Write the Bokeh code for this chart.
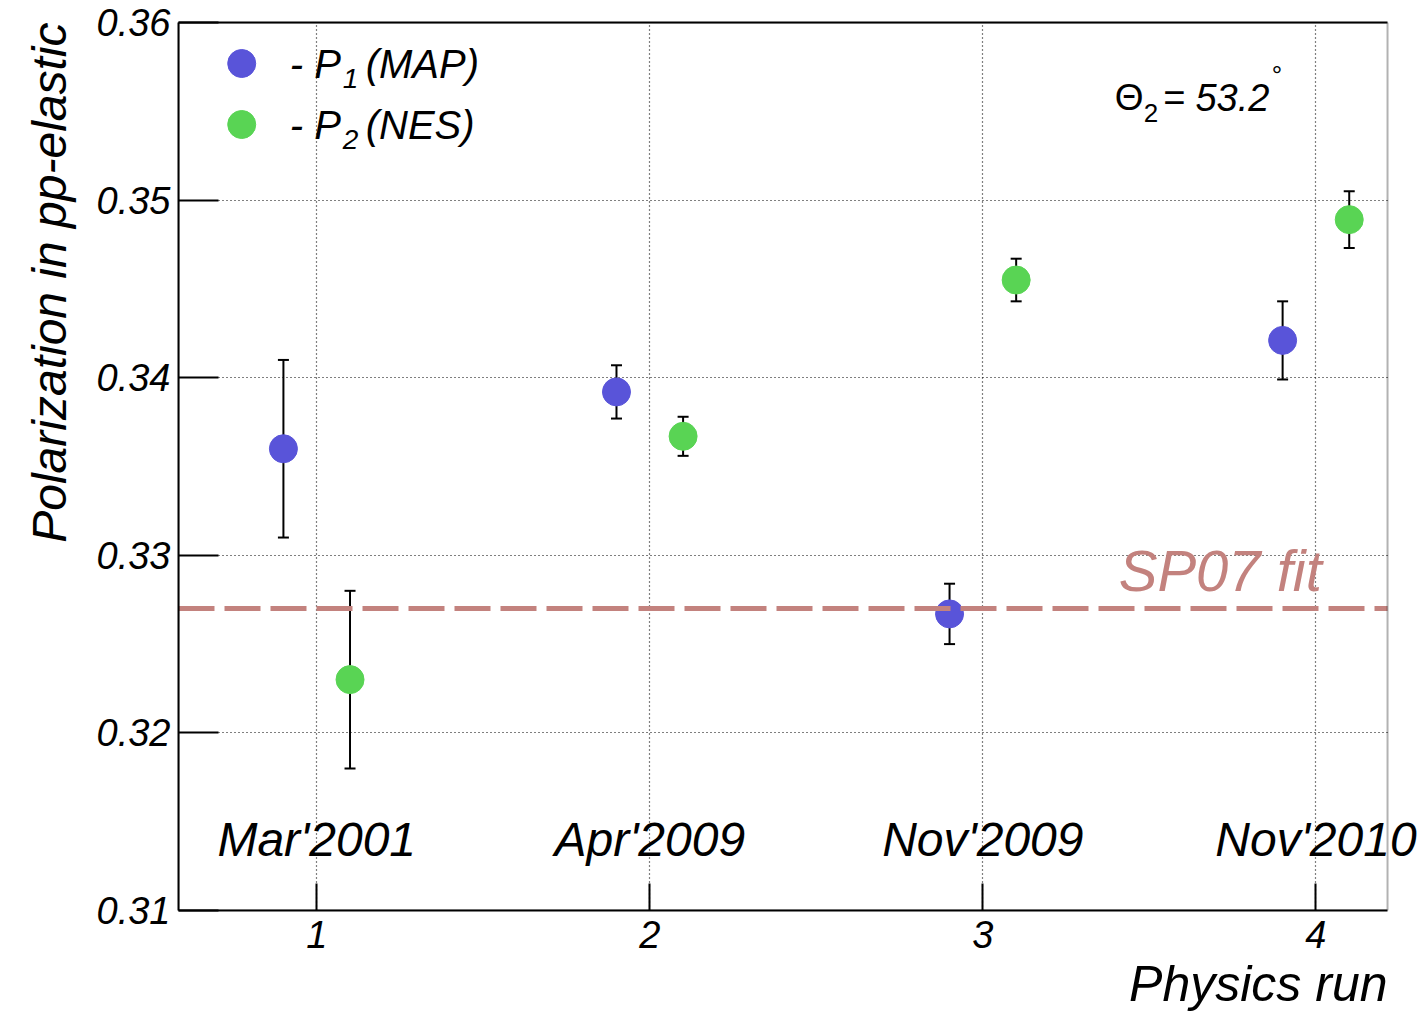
import math
from bokeh.plotting import figure
from bokeh.models import (ColumnDataSource, Whisker, TeeHead, Label, Title,
                          FixedTicker, NumeralTickFormatter, Range1d,
                          BoxAnnotation, LinearAxis)
from bokeh.core.properties import value
from bokeh.embed import file_html
from bokeh.resources import INLINE

# ---- data ----
runs = [1, 2, 3, 4]
run_labels = ["Mar'2001", "Apr'2009", "Nov'2009", "Nov'2010"]
p1_x = [0.9, 1.9, 2.9, 3.9]
p1_val = [0.3360, 0.3392, 0.3267, 0.3421]
p1_err = [0.0050, 0.0015, 0.0017, 0.0022]
p2_x = [1.1, 2.1, 3.1, 4.1]
p2_val = [0.3230, 0.3367, 0.3455, 0.3489]
p2_err = [0.0050, 0.0011, 0.0012, 0.0016]
sp07_fit = 0.3270
y_ticks = [0.31, 0.32, 0.33, 0.34, 0.35, 0.36]

BLUE = "#5954d9"
GREEN = "#59d454"
ROSE = "#c3827e"
FONT = "Liberation Sans"

X0, X1 = 0.585, 4.215       # visible box
XR = 4.332                  # frame extends to the canvas edge (unclipped text)
Y0, Y1 = 0.31, 0.36


def xd(px):
    return 1 + (px - 316) / 333.06


def yd(py):
    return Y1 - (py - 22) / 17760.0


p = figure(width=1426, height=1018, output_backend="svg", toolbar_location=None,
           x_range=Range1d(X0, XR), y_range=Range1d(Y0, Y1),
           min_border_left=178, min_border_right=0, min_border_top=22,
           min_border_bottom=108)
p.background_fill_color = "white"
p.border_fill_color = "white"
p.outline_line_color = None

for ax in (p.xaxis[0], p.yaxis[0]):
    ax.axis_line_color = "black"
    ax.axis_line_width = 2
    ax.major_tick_line_color = "black"
    ax.major_tick_line_width = 2
    ax.major_tick_out = 0
    ax.minor_tick_line_color = None
    ax.major_label_text_font = FONT
    ax.major_label_text_font_style = "italic"
    ax.major_label_text_font_size = "38px"
    ax.major_label_text_color = "black"

p.xaxis.ticker = FixedTicker(ticks=runs)
p.xaxis.bounds = (X0, X1)
p.xaxis.major_tick_in = 27
p.xaxis.major_label_standoff = 10
p.yaxis.ticker = FixedTicker(ticks=y_ticks)
p.yaxis.formatter = NumeralTickFormatter(format="0.00")
p.yaxis.major_tick_in = 40
p.yaxis.major_label_standoff = 8

# top edge of the box
top_ax = LinearAxis(bounds=(X0, X1), ticker=FixedTicker(ticks=[]),
                    major_tick_line_color=None, minor_tick_line_color=None,
                    axis_line_color="black", axis_line_width=2)
p.add_layout(top_ax, "above")

for g in (p.xgrid[0], p.ygrid[0]):
    g.grid_line_color = "black"
    g.grid_line_alpha = 1.0
    g.grid_line_width = 1.2
    g.grid_line_dash = "1 3"
p.ygrid[0].cross_bounds = (X0, X1)

# right edge of the box
p.add_layout(BoxAnnotation(left=X0, right=X1, bottom=Y0, top=Y1,
                           fill_alpha=0, line_color="black", line_width=2))

# error bars
for xs, vals, errs in ((p1_x, p1_val, p1_err), (p2_x, p2_val, p2_err)):
    src = ColumnDataSource(dict(x=xs, y=vals,
                                lo=[v - e for v, e in zip(vals, errs)],
                                hi=[v + e for v, e in zip(vals, errs)]))
    w = Whisker(base="x", lower="lo", upper="hi", source=src, dimension="height",
                line_color="black", line_width=2,
                upper_head=TeeHead(size=11, line_color="black", line_width=2),
                lower_head=TeeHead(size=11, line_color="black", line_width=2))
    p.add_layout(w)

p.scatter(p1_x, p1_val, size=28, color=BLUE, line_color=BLUE)
p.scatter(p2_x, p2_val, size=28, color=GREEN, line_color=GREEN)

# SP07 fit line
p.segment(x0=[X0], x1=[X1], y0=[sp07_fit], y1=[sp07_fit], line_color=ROSE,
          line_width=5, line_dash="36 10")
p.add_layout(Label(x=xd(1118), y=yd(570), text="SP07 fit", text_color=ROSE,
                   text_font=FONT, text_font_style="italic",
                   text_font_size="58px", text_baseline="alphabetic"))

# run labels
p.text(x=runs, y=[yd(839)] * len(runs), text=run_labels, text_align="center",
       text_baseline="alphabetic", text_font=value(FONT),
       text_font_style="italic", text_font_size="48px", text_color="black")

# legend (manual)
leg_rows = [(63, BLUE, "1", "(MAP)"), (124, GREEN, "2", "(NES)")]
for row_py, col, sub, txt in leg_rows:
    p.scatter([xd(241)], [yd(row_py)], size=28, color=col, line_color=col)
    p.add_layout(Label(x=xd(289), y=yd(row_py), text="- P", text_font=FONT,
                       text_font_style="italic", text_font_size="40px",
                       text_color="black", text_baseline="alphabetic"))
    p.add_layout(Label(x=xd(342), y=yd(row_py + 15), text=sub, text_font=FONT,
                       text_font_style="italic", text_font_size="28px",
                       text_color="black", text_baseline="alphabetic"))
    p.add_layout(Label(x=xd(365), y=yd(row_py), text=txt, text_font=FONT,
                       text_font_style="italic", text_font_size="40px",
                       text_color="black", text_baseline="alphabetic"))

# Theta annotation
p.add_layout(Label(x=xd(1114), y=yd(97), text="Θ", text_font=FONT,
                   text_font_size="37px", text_color="black",
                   text_baseline="alphabetic"))
p.add_layout(Label(x=xd(1143), y=yd(112), text="2", text_font=FONT,
                   text_font_size="26px", text_color="black",
                   text_baseline="alphabetic"))
p.add_layout(Label(x=xd(1162), y=yd(97), text="= 53.2", text_font=FONT,
                   text_font_style="italic", text_font_size="38px",
                   text_color="black", text_baseline="alphabetic"))
p.add_layout(Label(x=xd(1271), y=yd(74), text="°", text_font=FONT,
                   text_font_size="26px", text_color="black",
                   text_baseline="alphabetic"))

# axis titles
p.add_layout(Title(text="Physics run", align="right", offset=39,
                   text_font=FONT, text_font_style="italic",
                   text_font_size="50px", text_color="black", standoff=6),
             "below")
p.add_layout(Title(text="Polarization in pp-elastic", align="right", offset=0,
                   text_font=FONT, text_font_style="italic",
                   text_font_size="48px", text_color="black", standoff=35),
             "left")

open("out.html", "w").write(file_html(p, INLINE))
